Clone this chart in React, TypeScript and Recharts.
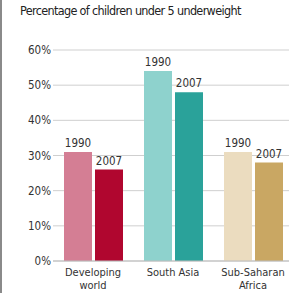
import { BarChart, Bar, XAxis, YAxis, CartesianGrid, Cell, LabelList, Text } from "recharts";

const regions = ["Developing world", "South Asia", "Sub-Saharan Africa"];
const values1990 = [31, 54, 31];
const values2007 = [26, 48, 28];
const yTicks = [0, 10, 20, 30, 40, 50, 60];

// per-region shades: light for 1990, dark for 2007
const colors1990 = ["#d47e94", "#8ed2cd", "#ebdcbf"];
const colors2007 = ["#b0062f", "#2aa29a", "#c9a763"];

const data = regions.map((region, i) => ({
  region,
  y1990: values1990[i],
  y2007: values2007[i],
}));

const FONT = "'DejaVu Sans Condensed', 'DejaVu Sans', sans-serif";

function RegionTick(props: any) {
  const { x, y, payload } = props;
  return (
    <Text
      x={x}
      y={y - 1}
      width={72}
      textAnchor="middle"
      verticalAnchor="start"
      fontSize={11}
      fontFamily={FONT}
      fill="#333"
      lineHeight={13}
    >
      {payload.value}
    </Text>
  );
}

export default function App() {
  return (
    <div
      style={{
        position: "absolute",
        left: 0,
        top: 0,
        width: 289,
        height: 293,
        overflow: "hidden",
        background: "#fff",
        borderLeft: "2px solid #8a8a8a",
        boxSizing: "border-box",
      }}
    >
      <div
        style={{
          position: "absolute",
          left: 18,
          top: 3,
          fontFamily: FONT,
          fontSize: 12.5,
          letterSpacing: -0.65,
          color: "#222",
          whiteSpace: "nowrap",
        }}
      >
        Percentage of children under 5 underweight
      </div>
      <div style={{ position: "absolute", left: -2, top: 0 }}>
        <BarChart
          width={293}
          height={293}
          data={data}
          margin={{ top: 50, right: 0, bottom: 0, left: 0 }}
          barSize={28}
          barGap={3}
        >
          <CartesianGrid horizontal vertical={false} stroke="#cfcfcf" />
          <XAxis
            dataKey="region"
            height={32}
            interval={0}
            tickLine={false}
            axisLine={{ stroke: "#bdbdbd" }}
            tick={<RegionTick />}
          />
          <YAxis
            width={53}
            domain={[0, 60]}
            ticks={yTicks}
            tickFormatter={(v) => `${v}%`}
            tickLine={false}
            axisLine={false}
            tickSize={0}
            tickMargin={2}
            tick={{ fontSize: 11.5, fontFamily: FONT, fill: "#333" }}
          />
          <Bar dataKey="y1990" isAnimationActive={false}>
            {data.map((d, i) => (
              <Cell key={d.region} fill={colors1990[i]} />
            ))}
            <LabelList
              position="top"
              formatter={() => "1990"}
              style={{ fontSize: 11.5, fontFamily: FONT, fill: "#333" }}
            />
          </Bar>
          <Bar dataKey="y2007" isAnimationActive={false}>
            {data.map((d, i) => (
              <Cell key={d.region} fill={colors2007[i]} />
            ))}
            <LabelList
              position="top"
              formatter={() => "2007"}
              style={{ fontSize: 11.5, fontFamily: FONT, fill: "#333" }}
            />
          </Bar>
        </BarChart>
      </div>
    </div>
  );
}
